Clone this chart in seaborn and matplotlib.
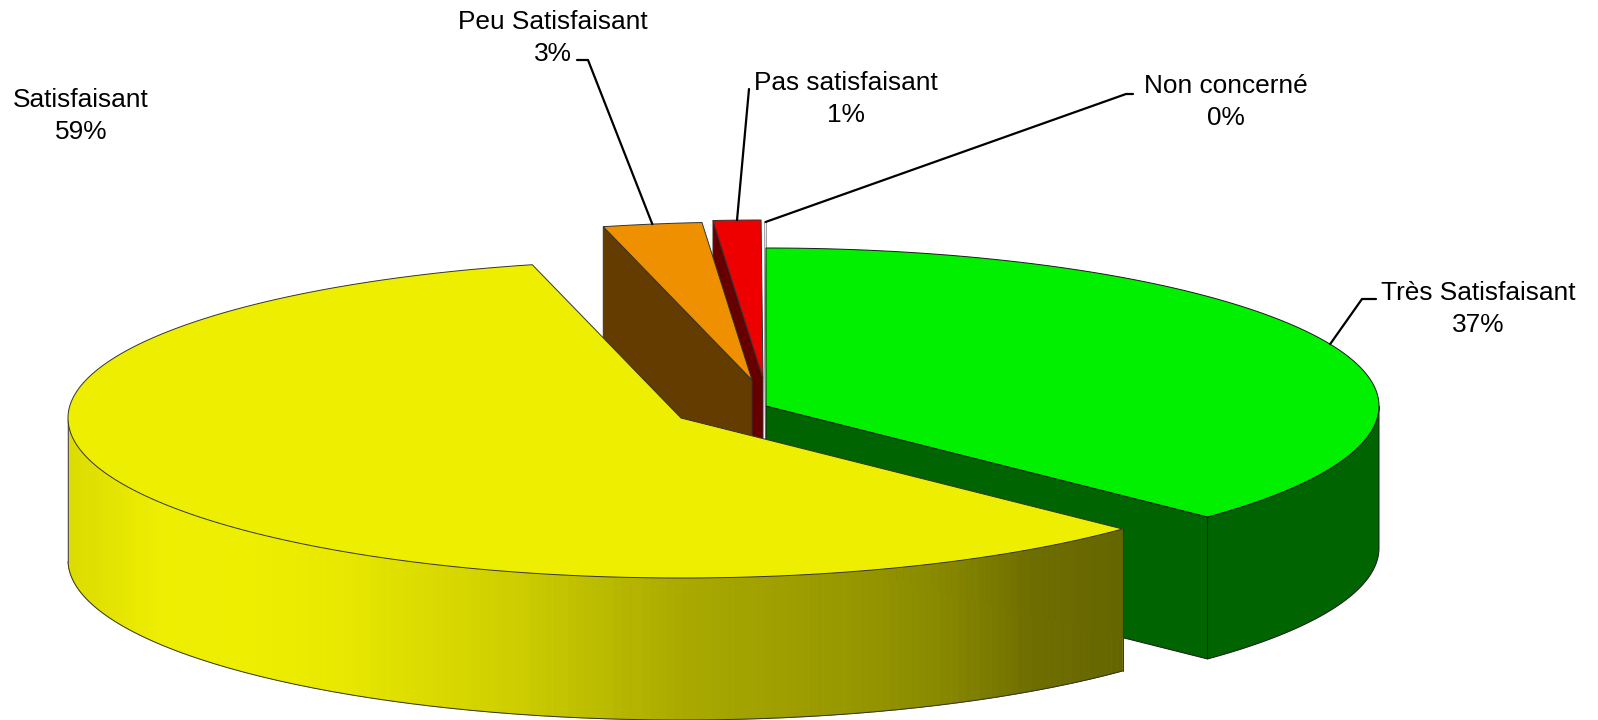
import matplotlib
matplotlib.use("Agg")
import matplotlib.pyplot as plt
import numpy as np
import seaborn as sns

categories = ["Très Satisfaisant", "Satisfaisant", "Peu Satisfaisant", "Pas satisfaisant", "Non concerné"]
shares = [37.2, 58.9, 2.6, 1.25, 0.05]
percent_labels = ["37%", "59%", "3%", "1%", "0%"]

top_colours = ["#00f000", "#eeee00", "#ee9000", "#ee0000", "#ffffff"]
side_colours = ["#006400", "#eeee00", "#653c00", "#660000", "#ffffff"]
edge_colours = ["#1a1a1a", "#333333", "#333333", "#333333", "#a0a0a0"]

# exploded centre of each slice, in pixels
centres = [(766, 406), (681, 418), (752, 380), (763, 378), (766.5, 380)]
label_pos = [(1478, 309), (81, 116), (553, 38), (846, 99), (1226, 102)]
elbows = [[(1376, 299), (1362, 299)], None, [(577, 60), (588, 60)], [(749, 89)], [(1133, 94), (1126, 94)]]

# the front of the disc is a little taller than the back
rx, ry_back, ry_front, depth = 613, 158, 160, 142

# left to right shading of the yellow rim
rim_shades = ["#dcdc00", "#eeee00", "#eeee00", "#e9e900", "#dcdc00", "#cfcf00", "#bcbc00",
              "#a9a900", "#a0a000", "#969600", "#888800", "#6e6e00", "#666600"]


def ellipse(cx, cy, angles):
    a = np.radians(angles)
    s = np.sin(a)
    return cx + rx * np.cos(a), cy - np.where(s > 0, ry_back, ry_front) * s


sns.set_theme(style="white")
plt.rcParams['font.family'] = ['Liberation Sans', 'DejaVu Sans']

fig = plt.figure(figsize=(15.98, 7.2), dpi=100)
ax = fig.add_axes([0, 0, 1, 1])
ax.set_xlim(0, 1598)
ax.set_ylim(720, 0)
ax.axis("off")

# clockwise from twelve o'clock
ends = 90 - np.cumsum(shares) * 3.6
starts = np.concatenate([[90], ends[:-1]])
mids = (starts + ends) / 2

shade_list = sns.blend_palette(rim_shades, n_colors=300)

# back slices first, yellow last since it sits in front of everything
for i in [4, 3, 2, 0, 1]:
    cx, cy = centres[i]
    arc = np.linspace(starts[i], ends[i], 300)
    top_x, top_y = ellipse(cx, cy, arc)

    # visible cut face: clockwise end for green, left edge for the small back slices
    if i != 1:
        ex, ey = ellipse(cx, cy, ends[i] if i == 0 else starts[i])
        ax.fill([ex, cx, cx, ex], [ey, cy, cy + depth, ey + depth],
                facecolor=side_colours[i], edgecolor=edge_colours[i], lw=0.7, zorder=1)

    # outer rim, only the front half of the ellipse shows
    front = arc[np.sin(np.radians(arc)) <= 0]
    if len(front) > 1:
        fx, fy = ellipse(cx, cy, front)
        if i == 1:
            xmin, xmax = fx.min(), fx.max()
            for k in range(len(front) - 1):
                frac = ((fx[k] + fx[k + 1]) / 2 - xmin) / (xmax - xmin)
                col = shade_list[min(int(frac * 300), 299)]
                ax.fill([fx[k], fx[k + 1], fx[k + 1], fx[k]],
                        [fy[k], fy[k + 1], fy[k + 1] + depth, fy[k] + depth],
                        facecolor=col, edgecolor=col, lw=0.6, zorder=1)
            ax.plot(fx, fy + depth, color="#333333", lw=0.7, zorder=1)
            ax.plot([fx[0], fx[0]], [fy[0], fy[0] + depth], color="#333333", lw=0.7, zorder=1)
            ax.plot([fx[-1], fx[-1]], [fy[-1], fy[-1] + depth], color="#555555", lw=0.7, zorder=1)
        else:
            ax.fill(np.r_[fx, fx[::-1]], np.r_[fy, fy[::-1] + depth],
                    facecolor=side_colours[i], edgecolor=edge_colours[i], lw=0.7, zorder=1)

    # top of the slice
    ax.fill(np.r_[cx, top_x], np.r_[cy, top_y], facecolor=top_colours[i],
            edgecolor=edge_colours[i], lw=0.7, zorder=1)

# labels and leader lines
for i, name in enumerate(categories):
    x, y = label_pos[i]
    ax.text(x, y, f"{name}\n{percent_labels[i]}", ha="center", va="center", fontsize=18.9,
            color="black", linespacing=1.4, zorder=3)
    if elbows[i] is not None:
        px, py = ellipse(*centres[i], mids[i])
        pts = elbows[i] + [(px, py)]
        ax.plot([p[0] for p in pts], [p[1] for p in pts], color="black", lw=1.6, zorder=2)

fig.savefig("out.png", dpi=100)
